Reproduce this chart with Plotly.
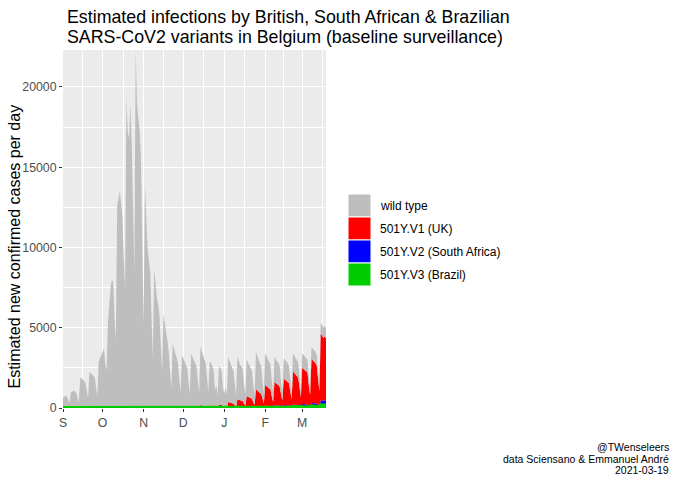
import pandas as pd
import plotly.graph_objects as go

# Estimated new cases per day (all lineages), 1 Sep 2020 - 19 Mar 2021
total_cases = [
    650, 720, 760, 700, 520, 330,                       # Tue 1 Sep - Sun 6 Sep
    1050, 1000, 1100, 1020, 950, 620, 380,
    1800, 1900, 1750, 1700, 1550, 1050, 600,
    2250, 2200, 2100, 2000, 1900, 1300, 700,
    2900, 3100, 3400, 3600, 3700, 2800, 2300,
    5300, 6600, 7500, 8000, 7800, 5600, 4200,
    12600, 13000, 13500, 12800, 11800, 9200, 7400,
    19400, 17200, 16800, 18900, 16500, 12400, 8500,
    22300, 19000, 18000, 17300, 15400, 10200, 5200,
    13900, 11200, 10000, 9200, 8400, 5600, 3100,
    8700, 7600, 6900, 6400, 5800, 3900, 2200,
    5900, 5200, 4700, 4200, 3500, 2300, 1250,
    4000, 3700, 3400, 3100, 2800, 1800, 1000,
    3300, 3100, 2900, 2700, 2500, 1600, 900,
    3400, 3200, 3000, 2800, 2600, 1700, 950,
    3850, 3500, 3300, 3000, 2800, 1800, 1000,
    2900, 2800, 2600, 2300, 1100, 1400, 800,
    2600, 2500, 2300, 1300, 900, 1300, 800,
    3200, 2900, 2700, 2500, 2300, 1500, 800,
    3200, 2900, 2700, 2600, 2400, 1500, 800,
    3000, 2800, 2600, 2500, 2300, 1400, 800,
    3500, 3200, 3000, 2800, 2600, 1600, 900,
    3400, 3200, 3000, 2900, 2700, 1700, 900,
    3200, 3000, 2900, 2800, 2600, 1600, 900,
    3100, 3000, 2900, 2800, 2600, 1700, 950,
    3400, 3300, 3100, 3000, 2800, 1800, 1000,
    3400, 3300, 3200, 3100, 3000, 1900, 1100,
    3800, 3700, 3600, 3500, 3300, 2200, 1300,
    5300, 5200, 5000, 5100, 5000,                       # Mon 15 - Fri 19 Mar
]

# Variant counts from 1 Dec 2020 onwards (nothing visible before)
uk_cases = [
    60, 60, 55, 50, 35, 20,                             # Tue 1 Dec - Sun 6 Dec
    100, 95, 90, 85, 80, 50, 30,
    155, 140, 130, 120, 110, 70, 40,
    145, 140, 130, 115, 55, 70, 40,
    180, 175, 160, 90, 65, 90, 55,
    320, 290, 270, 250, 230, 150, 80,
    480, 435, 405, 390, 360, 225, 120,
    660, 615, 570, 550, 505, 310, 175,
    1050, 960, 900, 840, 780, 480, 270,
    1290, 1215, 1140, 1100, 1025, 645, 340,
    1470, 1380, 1335, 1290, 1195, 735, 415,
    1645, 1590, 1540, 1485, 1380, 900, 505,
    2040, 1980, 1860, 1800, 1680, 1080, 600,
    2245, 2180, 2110, 2045, 1980, 1255, 725,
    2735, 2665, 2590, 2520, 2375, 1585, 935,
    4130, 4055, 3900, 3980, 3900,
]
sa_cases = [
    10, 10, 10, 10, 5, 5,
    15, 15, 15, 15, 10, 10, 5,
    25, 20, 20, 20, 20, 10, 5,
    20, 20, 20, 20, 10, 10, 5,
    25, 25, 25, 15, 10, 15, 10,
    45, 40, 40, 35, 35, 20, 10,
    60, 55, 50, 50, 45, 30, 15,
    75, 70, 65, 60, 55, 35, 20,
    100, 90, 85, 80, 75, 45, 25,
    115, 110, 105, 100, 95, 60, 30,
    125, 115, 115, 110, 100, 65, 35,
    135, 130, 125, 120, 115, 75, 40,
    160, 155, 145, 140, 130, 85, 45,
    175, 170, 165, 160, 155, 100, 55,
    210, 205, 200, 195, 185, 120, 70,
    320, 315, 300, 310, 300,
]
brazil_cases = [
    0, 0, 0, 0, 0, 0,
    0, 0, 0, 0, 0, 0, 0,
    0, 0, 0, 0, 0, 0, 0,
    0, 0, 0, 0, 0, 0, 0,
    0, 0, 0, 0, 0, 0, 0,
    5, 5, 5, 5, 5, 0, 0,
    10, 10, 10, 10, 10, 5, 0,
    15, 15, 15, 15, 10, 5, 5,
    20, 20, 20, 20, 15, 10, 5,
    30, 30, 30, 25, 25, 15, 10,
    40, 40, 35, 35, 35, 20, 10,
    50, 50, 50, 45, 45, 30, 15,
    65, 65, 60, 60, 55, 35, 20,
    80, 80, 75, 75, 70, 45, 25,
    100, 100, 95, 95, 90, 60, 35,
    170, 165, 160, 165, 160,
]

month_ticks = ['2020-09-01', '2020-10-01', '2020-11-01', '2020-12-01',
               '2021-01-01', '2021-02-01', '2021-03-01']
month_labels = ['S', 'O', 'N', 'D', 'J', 'F', 'M']
mid_month_ticks = ['2020-09-16', '2020-10-16 12:00', '2020-11-16', '2020-12-16 12:00',
                   '2021-01-16 12:00', '2021-02-15', '2021-03-16 12:00']
y_ticks = [0, 5000, 10000, 15000, 20000]
y_labels = ['0', '5000', '10000', '15000', '20000']

legend_labels = ['wild type', '501Y.V1 (UK)', '501Y.V2 (South Africa)', '501Y.V3 (Brazil)']
legend_colors = ['#BEBEBE', '#FF0000', '#0000FF', '#00CD00']

# Build the stacked table
dates = pd.date_range('2020-09-01', '2021-03-19', freq='D')
variant_dates = pd.date_range('2020-12-01', '2021-03-19', freq='D')
df = pd.DataFrame({'total': total_cases}, index=dates)
df['uk'] = pd.Series(uk_cases, index=variant_dates).reindex(dates, fill_value=0)
df['sa'] = pd.Series(sa_cases, index=variant_dates).reindex(dates, fill_value=0)
df['brazil'] = pd.Series(brazil_cases, index=variant_dates).reindex(dates, fill_value=0)
df['wild'] = df['total'] - df['uk'] - df['sa'] - df['brazil']

fig = go.Figure()

# stacked from the bottom: Brazil, South Africa, UK, wild type
fig.add_trace(go.Scatter(x=df.index, y=df['brazil'], stackgroup='v', mode='lines',
                         line=dict(color='#00CD00', width=0), fillcolor='#00CD00',
                         name=legend_labels[3]))
fig.add_trace(go.Scatter(x=df.index, y=df['sa'], stackgroup='v', mode='lines',
                         line=dict(color='#0000FF', width=0), fillcolor='#0000FF',
                         name=legend_labels[2]))
fig.add_trace(go.Scatter(x=df.index, y=df['uk'], stackgroup='v', mode='lines',
                         line=dict(color='#FF0000', width=0), fillcolor='#FF0000',
                         name=legend_labels[1]))
fig.add_trace(go.Scatter(x=df.index, y=df['wild'], stackgroup='v', mode='lines',
                         line=dict(color='#BEBEBE', width=0), fillcolor='#BEBEBE',
                         name=legend_labels[0]))
# outline of the Brazil band on top, so it shows along the axis like the original
fig.add_trace(go.Scatter(x=df.index, y=df['brazil'], mode='lines',
                         line=dict(color='#00CD00', width=4), hoverinfo='skip'))

FONT = 'Arial, Liberation Sans, sans-serif'

fig.update_layout(
    width=680, height=485,
    margin=dict(l=63, r=354, t=50, b=77),
    paper_bgcolor='white',
    plot_bgcolor='#EBEBEB',
    showlegend=False,
    font=dict(family=FONT, color='black'),
)

fig.update_xaxes(
    type='date',
    range=['2020-09-01', '2021-03-19'],
    tickvals=month_ticks, ticktext=month_labels,
    ticks='outside', ticklen=3, tickwidth=1, tickcolor='#333333',
    tickfont=dict(size=12.3, color='#4D4D4D'),
    showgrid=True, gridcolor='white', gridwidth=1.4,
    minor=dict(tickvals=mid_month_ticks, showgrid=True, gridcolor='white',
               gridwidth=0.7, ticks=''),
    zeroline=False, showline=False,
)
fig.update_yaxes(
    range=[0, 22300],
    tickvals=y_ticks, ticktext=y_labels,
    ticks='outside', ticklen=3, tickwidth=1, tickcolor='#333333',
    tickfont=dict(size=12.3, color='#4D4D4D'),
    showgrid=True, gridcolor='white', gridwidth=1.4,
    minor=dict(tickvals=[2500, 7500, 12500, 17500], showgrid=True,
               gridcolor='white', gridwidth=0.7, ticks=''),
    zeroline=False, showline=False,
)

# Title (two lines)
fig.add_annotation(text='Estimated infections by British, South African & Brazilian',
                   xref='paper', yref='paper', x=0.0076, y=1.0922,
                   xanchor='left', yanchor='middle', showarrow=False,
                   font=dict(size=17.8, color='black'))
fig.add_annotation(text='SARS-CoV2 variants in Belgium (baseline surveillance)',
                   xref='paper', yref='paper', x=0.0076, y=1.0363,
                   xanchor='left', yanchor='middle', showarrow=False,
                   font=dict(size=17.8, color='black'))

# y axis title
fig.add_annotation(text='Estimated new confirmed cases per day',
                   xref='paper', yref='paper', x=-0.1825, y=0.451,
                   xanchor='center', yanchor='middle', textangle=-90,
                   showarrow=False, font=dict(size=16, color='black'))

# ggplot-style legend: square keys + labels
key_tops = [194, 217, 240, 263]
for i, (lab, col) in enumerate(zip(legend_labels, legend_colors)):
    top = key_tops[i]
    fig.add_shape(type='rect', xref='paper', yref='paper',
                  x0=(348 - 63) / 263, x1=(371 - 63) / 263,
                  y0=(408 - top - 23) / 358, y1=(408 - top) / 358,
                  fillcolor=col, line=dict(color='white', width=1))
    fig.add_annotation(text=lab, xref='paper', yref='paper',
                       x=(378 - 63) / 263, y=(408 - top - 11.5) / 358,
                       xanchor='left', yanchor='middle', showarrow=False,
                       font=dict(size=12, color='black'))

# caption, bottom right
caption_lines = ['@TWenseleers', 'data Sciensano & Emmanuel André', '2021-03-19']
for py, line in zip([447, 459, 470], caption_lines):
    fig.add_annotation(text=line, xref='paper', yref='paper',
                       x=(671 - 63) / 263, y=(408 - py) / 358,
                       xanchor='right', yanchor='middle', showarrow=False,
                       font=dict(size=10.5, color='black'))

# the page body has a default margin; drop it so the figure sits at 0,0
fig.write_html('out.html', config={'displayModeBar': False},
               post_script="document.body.style.margin='0px';")
